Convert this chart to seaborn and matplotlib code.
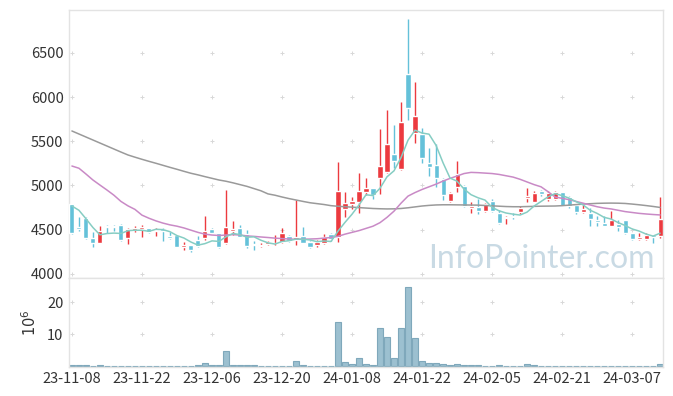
import numpy as np
import pandas as pd
import matplotlib
matplotlib.use("Agg")
import matplotlib.pyplot as plt
import seaborn as sns

# daily prices (KRW), trading-day index 0..84
opens = [4788, 4535, 4636, 4410, 4354, 4546, 4540, 4554, 4403, 4497,
         4505, 4520, 4486, 4510, 4429, 4441, 4305, 4324, 4384, 4410,
         4508, 4460, 4347, 4489, 4520, 4452, 4339, 4313, 4336, 4345,
         4365, 4429, 4384, 4429, 4365, 4328, 4354, 4452, 4415, 4731,
         4791, 4817, 4930, 4968, 5081, 5156, 5356, 5183, 6260, 5597,
         5579, 5251, 5232, 5074, 4828, 4987, 4998, 4749, 4761, 4716,
         4825, 4693, 4629, 4659, 4697, 4862, 4817, 4938, 4844, 4848,
         4927, 4870, 4780, 4704, 4686, 4610, 4580, 4546, 4568, 4610,
         4460, 4396, 4396, 4441, 4433]
highs = [4795, 4641, 4640, 4471, 4546, 4550, 4550, 4560, 4525, 4542,
         4550, 4525, 4520, 4515, 4471, 4445, 4364, 4330, 4430, 4655,
         4520, 4465, 4949, 4602, 4554, 4497, 4373, 4350, 4370, 4446,
         4520, 4440, 4836, 4528, 4370, 4380, 4452, 4460, 5262, 4923,
         4870, 5145, 5081, 4975, 5635, 5853, 5684, 5947, 6878, 6173,
         5646, 5420, 5469, 5080, 4930, 5280, 5005, 4817, 4845, 4800,
         4845, 4720, 4650, 4690, 4770, 4968, 4938, 4945, 4938, 4935,
         4930, 4880, 4785, 4780, 4742, 4650, 4655, 4715, 4610, 4615,
         4465, 4460, 4460, 4441, 4867]
lows = [4455, 4486, 4392, 4302, 4350, 4460, 4486, 4373, 4336, 4475,
        4415, 4460, 4433, 4373, 4400, 4305, 4271, 4252, 4300, 4384,
        4460, 4290, 4339, 4441, 4420, 4290, 4271, 4305, 4330, 4328,
        4350, 4360, 4328, 4350, 4290, 4310, 4340, 4370, 4365, 4648,
        4738, 4686, 4893, 4848, 4900, 5138, 5194, 5170, 5740, 5477,
        5258, 5107, 4986, 4836, 4810, 4923, 4760, 4693, 4680, 4700,
        4695, 4560, 4565, 4620, 4680, 4810, 4810, 4880, 4830, 4840,
        4765, 4750, 4680, 4690, 4546, 4546, 4540, 4540, 4480, 4455,
        4380, 4385, 4385, 4354, 4403]
closes = [4467, 4505, 4403, 4354, 4486, 4535, 4530, 4384, 4508, 4520,
          4528, 4471, 4497, 4490, 4403, 4309, 4331, 4271, 4316, 4486,
          4467, 4302, 4528, 4508, 4422, 4316, 4328, 4331, 4362, 4352,
          4460, 4376, 4422, 4354, 4309, 4365, 4415, 4392, 4938, 4806,
          4825, 4938, 4968, 4893, 5220, 5469, 5280, 5714, 5879, 5785,
          5307, 5213, 5088, 4893, 4919, 5130, 4772, 4768, 4716, 4791,
          4716, 4580, 4644, 4648, 4742, 4881, 4919, 4904, 4912, 4923,
          4772, 4772, 4704, 4735, 4622, 4591, 4546, 4610, 4535, 4460,
          4396, 4422, 4441, 4422, 4622]
# volume in millions of shares
volumes = [0.3, 0.3, 0.3, 0.05, 0.3, 0.05, 0.05, 0.05, 0.05, 0.05,
           0.05, 0.05, 0.05, 0.05, 0.05, 0.05, 0.05, 0.05, 0.25, 0.75,
           0.25, 0.25, 4.8, 0.25, 0.25, 0.25, 0.25, 0.05, 0.05, 0.05,
           0.05, 0.05, 1.4, 0.2, 0.05, 0.05, 0.05, 0.05, 13.8, 1.05,
           0.7, 2.3, 0.7, 0.2, 11.8, 9.2, 2.3, 11.8, 24.8, 8.8,
           1.4, 1.0, 1.0, 0.5, 0.2, 0.7, 0.2, 0.2, 0.2, 0.05,
           0.05, 0.15, 0.05, 0.05, 0.05, 0.5, 0.2, 0.05, 0.05, 0.05,
           0.05, 0.05, 0.05, 0.05, 0.05, 0.05, 0.05, 0.05, 0.05, 0.05,
           0.05, 0.05, 0.05, 0.05, 0.7]
# moving averages
ma5 = [4768, 4720, 4625, 4525, 4443, 4457, 4462, 4458, 4489, 4495,
       4494, 4482, 4505, 4501, 4478, 4434, 4406, 4361, 4326, 4343,
       4374, 4368, 4420, 4458, 4445, 4415, 4420, 4381, 4352, 4338,
       4367, 4376, 4394, 4393, 4384, 4365, 4373, 4367, 4484, 4583,
       4675, 4780, 4895, 4886, 4969, 5098, 5166, 5315, 5512, 5625,
       5593, 5580, 5454, 5257, 5084, 5049, 4960, 4896, 4861, 4835,
       4753, 4714, 4689, 4676, 4666, 4699, 4767, 4819, 4872, 4908,
       4886, 4857, 4817, 4781, 4721, 4685, 4640, 4621, 4581, 4548,
       4509, 4485, 4451, 4428, 4461]
ma20 = [5220, 5195, 5130, 5062, 5005, 4949, 4890, 4820, 4770, 4730,
        4665, 4630, 4600, 4575, 4555, 4540, 4520, 4495, 4470, 4450,
        4440, 4435, 4440, 4445, 4440, 4430, 4425, 4418, 4412, 4405,
        4400, 4395, 4392, 4392, 4395, 4398, 4405, 4412, 4425, 4450,
        4470, 4490, 4515, 4540, 4580, 4640, 4710, 4800, 4880, 4920,
        4955, 4985, 5015, 5050, 5080, 5107, 5135, 5148, 5145, 5140,
        5135, 5125, 5110, 5095, 5070, 5040, 5010, 4985, 4930, 4870,
        4855, 4840, 4820, 4800, 4780, 4760, 4745, 4735, 4720, 4705,
        4695, 4685, 4678, 4672, 4667]
ma60 = [5616, 5582, 5548, 5514, 5480, 5446, 5412, 5378, 5345, 5320,
        5296, 5273, 5251, 5228, 5205, 5183, 5160, 5138, 5120, 5100,
        5081, 5062, 5048, 5030, 5010, 4990, 4965, 4940, 4905, 4890,
        4870, 4852, 4836, 4820, 4805, 4795, 4785, 4772, 4765, 4760,
        4755, 4750, 4745, 4740, 4737, 4735, 4736, 4740, 4748, 4758,
        4768, 4775, 4780, 4782, 4782, 4781, 4780, 4779, 4778, 4774,
        4770, 4766, 4762, 4760, 4760, 4762, 4764, 4766, 4767, 4768,
        4772, 4778, 4784, 4790, 4794, 4798, 4800, 4801, 4800, 4797,
        4790, 4782, 4773, 4763, 4752]
date_labels = ["23-11-08", "23-11-22", "23-12-06", "23-12-20", "24-01-08",
               "24-01-22", "24-02-05", "24-02-21", "24-03-07"]
price_ticks = [4000, 4500, 5000, 5500, 6000, 6500]
volume_ticks = [10, 20]

RED = "#ec3a3f"
BLUE = "#64c1d9"

df = pd.DataFrame({"open": opens, "high": highs, "low": lows, "close": closes,
                   "vol": volumes, "ma5": ma5, "ma20": ma20, "ma60": ma60})
df["day"] = np.arange(len(df))
df["up"] = df["close"] >= df["open"]

sns.set_theme(style="white")
plt.rcParams["font.family"] = ["Noto Sans CJK KR", "DejaVu Sans"]

fig = plt.figure(figsize=(6.73, 3.96), dpi=100)
ax = fig.add_axes([0.1027, 0.2972, 0.8828, 0.6775])
axv = fig.add_axes([0.1027, 0.0740, 0.8828, 0.2232], sharex=ax)

# candles
cols = np.where(df["up"], RED, BLUE)
ax.vlines(df["day"], df["low"], df["high"], colors=cols, lw=1.0, zorder=2)
body_low = np.minimum(df["open"], df["close"])
body_h = np.maximum((df["close"] - df["open"]).abs(), 10)
ax.bar(df["day"], body_h, bottom=body_low, width=0.72, color=cols, zorder=3)

# moving averages
sns.lineplot(data=df, x="day", y="ma60", ax=ax, color="#9a9a9a", lw=1.1, zorder=4)
sns.lineplot(data=df, x="day", y="ma20", ax=ax, color="#c98ac6", lw=1.1, zorder=4)
sns.lineplot(data=df, x="day", y="ma5", ax=ax, color="#86cdc3", lw=1.1, zorder=4)

# volume
sns.barplot(data=df, x="day", y="vol", ax=axv, native_scale=True, errorbar=None,
            color="#9cc0d0", edgecolor="#7fa8bb", linewidth=0.8, saturation=1,
            width=0.95)

xt = np.arange(0, 81, 10)
ax.set_xlim(-0.4, 84.45)
ax.set_ylim(3951, 6983)
axv.set_ylim(-0.3, 27.6)

for a, yt in [(ax, price_ticks), (axv, volume_ticks)]:
    gx, gy = np.meshgrid(xt, yt)
    a.scatter(gx.ravel(), gy.ravel(), marker="+", s=7, color="#d8d8d8",
              lw=0.7, zorder=0)
    a.set_yticks(yt)
    a.set_xlabel("")
    a.set_ylabel("")
    for s in a.spines.values():
        s.set_color("#e3e3e3")
        s.set_linewidth(1.0)
    a.tick_params(length=0, labelsize=10.5, labelcolor="#333333", pad=4)

ax.set_xticks(xt)
ax.tick_params(axis="x", labelbottom=False)
axv.set_xticks(xt)
axv.set_xticklabels(date_labels)
axv.set_ylabel(r"$10^6$", fontsize=10.5, color="#333333", labelpad=6)

ax.text(0.986, 0.038, "InfoPointer.com", transform=ax.transAxes, ha="right",
        va="baseline", fontsize=23, color="#c9dae4", family="Lato",
        zorder=1)

fig.savefig("out.png", dpi=100)
